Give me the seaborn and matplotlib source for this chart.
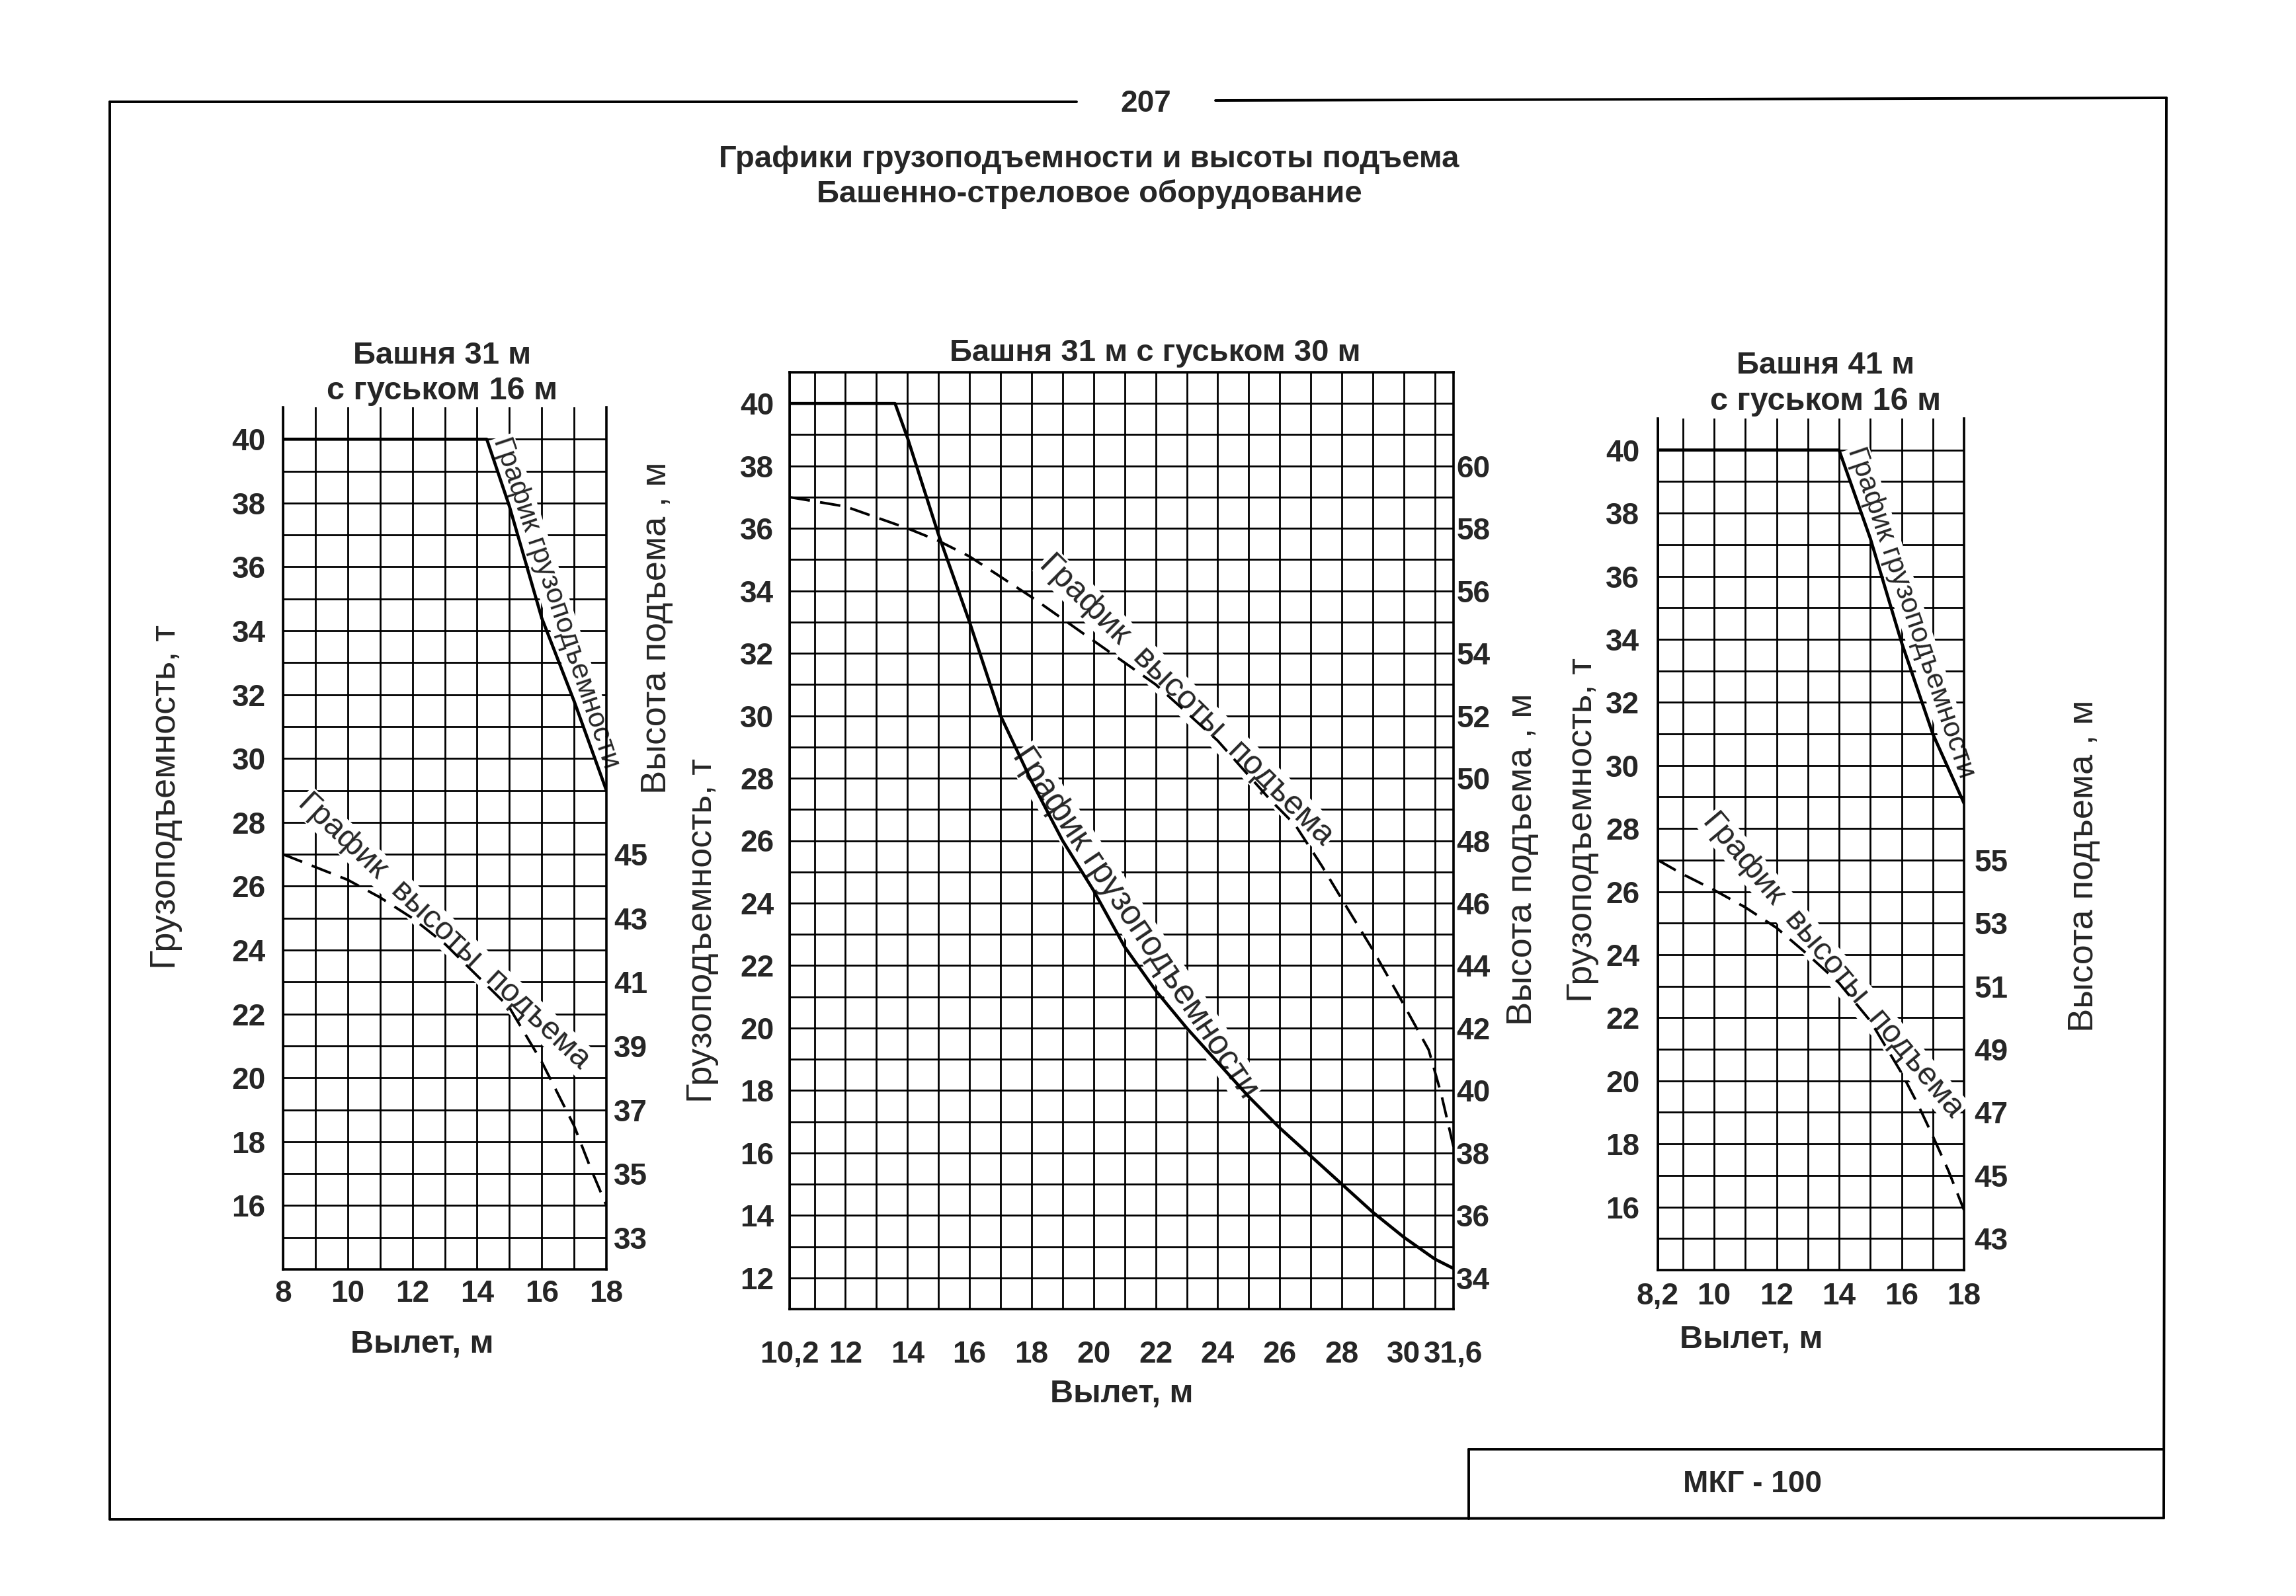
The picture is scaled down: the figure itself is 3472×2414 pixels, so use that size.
import numpy as np
import matplotlib
matplotlib.use("Agg")
import matplotlib.pyplot as plt
from matplotlib.lines import Line2D
import seaborn as sns

# ---- data ----
# Панель 1: башня 31 м с гуськом 16 м
p1_reach = [8, 14.3, 15, 16, 17, 18]
p1_load = [40, 40, 37.9, 34.4, 31.8, 29.0]
p1_h_reach = [8, 9, 10, 11, 12, 13, 14, 15, 16, 17, 17.5, 18]
p1_height = [45.0, 44.6, 44.2, 43.65, 43.0, 42.2, 41.2, 40.2, 38.5, 36.5, 35.2, 34.0]

# Панель 2: башня 31 м с гуськом 30 м
p2_reach = [10.2, 13.6, 14, 15, 16, 17, 18, 19, 20, 21, 22, 23, 24, 25, 26, 27, 28, 29, 30, 31, 31.6]
p2_load = [40, 40, 38.9, 35.8, 33.0, 30.0, 27.9, 26.0, 24.4, 22.6, 21.2, 20.0, 18.9, 17.8,
           16.8, 15.9, 15.0, 14.1, 13.3, 12.6, 12.3]
p2_h_reach = [10.2, 12, 14, 15, 16, 18, 20, 22, 24, 25.7, 26.5, 27.35, 28.2, 29.0, 29.8, 30.8, 31.2, 31.6]
p2_height = [59.0, 58.7, 58.0, 57.6, 57.1, 55.8, 54.4, 53.0, 51.2, 49.3, 48.5, 47.2, 45.8, 44.5,
             43.1, 41.3, 39.9, 38.2]

# Панель 3: башня 41 м с гуськом 16 м
p3_reach = [8.2, 14.0, 15, 16, 17, 18]
p3_load = [40, 40, 37.2, 33.9, 31.0, 28.8]
p3_h_reach = [8.2, 9, 10, 11, 12, 13, 14, 15, 16, 16.5, 17, 17.5, 18]
p3_height = [55.0, 54.55, 54.05, 53.5, 52.85, 52.0, 51.1, 49.9, 48.25, 47.3, 46.25, 45.15, 43.9]

# tick labels
p1_xticks = [8, 10, 12, 14, 16, 18]
p1_xlabels = ["8", "10", "12", "14", "16", "18"]
p2_xticks = [10.2, 12, 14, 16, 18, 20, 22, 24, 26, 28, 30, 31.6]
p2_xlabels = ["10,2", "12", "14", "16", "18", "20", "22", "24", "26", "28", "30", "31,6"]
p3_xticks = [8.2, 10, 12, 14, 16, 18]
p3_xlabels = ["8,2", "10", "12", "14", "16", "18"]

sns.set_style("white")
plt.rcParams["font.family"] = ["Liberation Sans", "DejaVu Sans"]

W, H = 3472, 2414
fig = plt.figure(figsize=(W / 100, H / 100), dpi=100)
fig.patch.set_facecolor("white")


def ftext(x, y, s, **kw):
    # x, y in page pixels
    kw.setdefault("ha", "center")
    kw.setdefault("va", "center")
    fig.text(x / W, 1 - y / H, s, **kw)


def fline(xs, ys, lw=2.8):
    fig.add_artist(Line2D([x / W for x in xs], [1 - y / H for y in ys],
                          transform=fig.transFigure, color="black", lw=lw))


def panel(box, xlim, ylim, h_off, xticks, xlabels, yticks, hticks,
          xpad, lpad, rpad, top_spine):
    x0, x1, yt, yb = box
    ax = fig.add_axes([x0 / W, 1 - yb / H, (x1 - x0) / W, (yb - yt) / H])
    ax.set_xlim(*xlim)
    ax.set_ylim(*ylim)
    ax.set_xticks(xticks)
    ax.set_xticklabels(xlabels)
    ax.set_yticks(yticks)
    ax.set_xticks(np.arange(np.ceil(xlim[0]), xlim[1] + 0.01, 1), minor=True)
    ytop = ylim[1] if top_spine else ylim[1] - 1
    ax.set_yticks(np.arange(ylim[0], ytop + 0.01, 1), minor=True)
    ax.set_axisbelow(True)
    ax.grid(which="both", color="black", lw=2.0)
    ax.tick_params(which="both", length=0)
    ax.tick_params(axis="x", pad=xpad, labelsize=33)
    ax.tick_params(axis="y", pad=lpad, labelsize=33)
    for lab in ax.get_xticklabels() + ax.get_yticklabels():
        lab.set_fontweight("bold")
    for sp in ax.spines.values():
        sp.set_color("black")
        sp.set_linewidth(2.6)
    ax.spines["top"].set_visible(top_spine)

    ax2 = ax.twinx()
    ax2.set_ylim(ylim[0] + h_off, ylim[1] + h_off)
    ax2.set_yticks(hticks)
    ax2.tick_params(length=0, pad=rpad, labelsize=33)
    for lab in ax2.get_yticklabels():
        lab.set_fontweight("bold")
    for sp in ax2.spines.values():
        sp.set_visible(False)
    ax2.grid(False)
    return ax, ax2


def curve_label(ax, text, at, p_a, p_b, size, va):
    # white box hides the grid under the text, the curve itself stays on top
    ang = np.degrees(np.arctan2(p_b[1] - p_a[1], p_b[0] - p_a[0]))
    ax.text(at[0], at[1], text, rotation=ang, rotation_mode="anchor",
            transform_rotates_text=True, ha="center", va=va, fontsize=size,
            bbox=dict(facecolor="white", edgecolor="none", pad=1), zorder=1.5)


dash = (0, (8, 4))

# ---- панель 1 ----
ax, ax2 = panel((428, 917, 616, 1920), (8, 18), (14, 41), 18,
                p1_xticks, p1_xlabels, range(16, 41, 2), range(33, 46, 2),
                xpad=11, lpad=19, rpad=8, top_spine=False)
sns.lineplot(x=p1_reach, y=p1_load, ax=ax, color="black", lw=3.4, sort=False, estimator=None)
sns.lineplot(x=p1_h_reach, y=p1_height, ax=ax2, color="black", lw=2.8,
             linestyle=dash, sort=False, estimator=None)
curve_label(ax, "График грузоподъемности", (16.05, 34.75), (15, 37.9), (17.5, 30.4), 31, "bottom")
curve_label(ax2, "График  высоты  подъема", (12.8, 42.4), (10, 44.2), (16, 38.5), 35, "baseline")

# ---- панель 2 ----
ax, ax2 = panel((1194, 2198, 563, 1980), (10.2, 31.6), (11, 41), 22,
                p2_xticks, p2_xlabels, range(12, 41, 2), range(34, 61, 2),
                xpad=34, lpad=17, rpad=3, top_spine=True)
sns.lineplot(x=p2_reach, y=p2_load, ax=ax, color="black", lw=3.4, sort=False, estimator=None)
sns.lineplot(x=p2_h_reach, y=p2_height, ax=ax2, color="black", lw=2.8,
             linestyle=dash, sort=False, estimator=None)
curve_label(ax, "График грузоподъемности", (21.1, 23.2), (18, 27.9), (24.5, 18.3), 37, "baseline")
curve_label(ax2, "График  высоты  подъема", (22.8, 52.3), (18, 55.8), (28.2, 45.8), 36, "baseline")

# ---- панель 3 ----
ax, ax2 = panel((2507, 2970, 633, 1921), (8.2, 18), (14, 41), 28,
                p3_xticks, p3_xlabels, range(16, 41, 2), range(43, 56, 2),
                xpad=13, lpad=20, rpad=11, top_spine=False)
sns.lineplot(x=p3_reach, y=p3_load, ax=ax, color="black", lw=3.4, sort=False, estimator=None)
sns.lineplot(x=p3_h_reach, y=p3_height, ax=ax2, color="black", lw=2.8,
             linestyle=dash, sort=False, estimator=None)
curve_label(ax, "График грузоподъемности", (15.9, 34.7), (14.3, 39.2), (17.5, 29.9), 31, "bottom")
curve_label(ax2, "График  высоты  подъема", (13.6, 51.5), (10, 54.05), (17.5, 45.2), 35, "baseline")

# ---- подписи осей и заголовки ----
ylab = "Грузоподъемность, т"
hlab = "Высота подъема , м"
ftext(251, 1205, ylab, rotation=90, fontsize=39)
ftext(993, 950, hlab, rotation=90, fontsize=39)
ftext(1062, 1408, ylab, rotation=90, fontsize=39)
ftext(2302, 1300, hlab, rotation=90, fontsize=39)
ftext(2393, 1255, ylab, rotation=90, fontsize=39)
ftext(3151, 1310, hlab, rotation=90, fontsize=39)

ftext(638, 2033, "Вылет, м", fontsize=35, fontweight="bold")
ftext(1696, 2108, "Вылет, м", fontsize=35, fontweight="bold")
ftext(2648, 2026, "Вылет, м", fontsize=35, fontweight="bold")

ftext(669, 538, "Башня 31 м", fontsize=34, fontweight="bold")
ftext(669, 591, "с гуськом 16 м", fontsize=35, fontweight="bold")
ftext(1747, 534, "Башня 31 м с гуськом 30 м", fontsize=34, fontweight="bold")
ftext(2761, 553, "Башня 41 м", fontsize=34, fontweight="bold")
ftext(2761, 607, "с гуськом 16 м", fontsize=35, fontweight="bold")

ftext(1733, 157, "207", fontsize=33, fontweight="bold")
ftext(1647, 241, "Графики грузоподъемности и высоты подъема", fontsize=34, fontweight="bold")
ftext(1647, 294, "Башенно-стреловое оборудование", fontsize=34, fontweight="bold")
ftext(2650, 2245, "МКГ - 100", fontsize=33, fontweight="bold")

# ---- рамка страницы ----
fline([166, 1628], [154, 154])
fline([1838, 3276], [152, 148])
fline([166, 166], [154, 2298])
fline([3276, 3272], [148, 2296])
fline([166, 3272], [2298, 2296])
fline([2221, 3272], [2192, 2192])
fline([2221, 2221], [2192, 2297])

fig.savefig("out.png", dpi=100, facecolor="white")
